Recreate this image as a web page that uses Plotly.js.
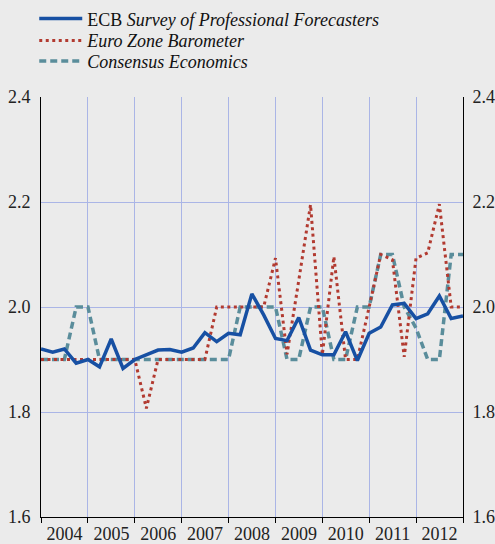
<!DOCTYPE html>
<html>
<head>
<meta charset="utf-8">
<script src="https://cdn.plot.ly/plotly-3.0.1.min.js"></script>
<style>
  html, body { margin: 0; padding: 0; background: #ebebeb; }
  #chart { width: 495px; height: 544px; }
</style>
</head>
<body>
<div id="chart"></div>
<script>
// Quarterly observations, 2004Q1 .. 2013Q1
const quarters = [
  "2004-01-01","2004-04-01","2004-07-01","2004-10-01",
  "2005-01-01","2005-04-01","2005-07-01","2005-10-01",
  "2006-01-01","2006-04-01","2006-07-01","2006-10-01",
  "2007-01-01","2007-04-01","2007-07-01","2007-10-01",
  "2008-01-01","2008-04-01","2008-07-01","2008-10-01",
  "2009-01-01","2009-04-01","2009-07-01","2009-10-01",
  "2010-01-01","2010-04-01","2010-07-01","2010-10-01",
  "2011-01-01","2011-04-01","2011-07-01","2011-10-01",
  "2012-01-01","2012-04-01","2012-07-01","2012-10-01",
  "2013-01-01"
];

const ecbSPF = [
  1.920, 1.914, 1.920, 1.893,
  1.900, 1.886, 1.939, 1.883,
  1.900, 1.909, 1.918, 1.919,
  1.914, 1.922, 1.951, 1.934,
  1.950, 1.947, 2.025, 1.985,
  1.940, 1.936, 1.980, 1.918,
  1.909, 1.909, 1.953, 1.898,
  1.950, 1.962, 2.004, 2.007,
  1.978, 1.987, 2.021, 1.978,
  1.983
];

const euroZoneBarometer = [
  1.90, 1.90, 1.90, 1.90,
  1.90, 1.90, 1.90, 1.90,
  1.90, 1.807, 1.90, 1.90,
  1.90, 1.90, 1.90, 2.00,
  2.00, 2.00, 2.00, 2.00,
  2.093, 1.91, 2.05, 2.195,
  1.909, 2.096, 1.90, 1.90,
  2.00, 2.10, 2.09, 1.905,
  2.093, 2.103, 2.196, 2.00,
  2.00
];

const consensusEconomics = [
  1.90, 1.90, 1.90, 2.00,
  2.00, 1.90, 1.90, 1.90,
  1.90, 1.90, 1.90, 1.90,
  1.90, 1.90, 1.90, 1.90,
  1.90, 2.00, 2.00, 2.00,
  2.00, 1.90, 1.90, 2.00,
  2.00, 1.90, 1.90, 2.00,
  2.00, 2.10, 2.10, 2.00,
  1.96, 1.90, 1.90, 2.10,
  2.10
];

const seriesNames = [
  "ECB <i>Survey of Professional Forecasters</i>",
  "<i>Euro Zone Barometer</i>",
  "<i>Consensus Economics</i>"
];

const yTicks = [1.6, 1.8, 2.0, 2.2, 2.4];

const FONT = "Liberation Serif, Times New Roman, serif";
const FS = 18;

const traces = [
  {
    x: quarters, y: consensusEconomics, name: seriesNames[2], legend: "legend3",
    type: "scatter", mode: "lines",
    line: { color: "#5a8d9b", width: 3.5, dash: "7px,4px" },
    hoverinfo: "skip"
  },
  {
    x: quarters, y: euroZoneBarometer, name: seriesNames[1], legend: "legend2",
    type: "scatter", mode: "lines",
    line: { color: "#b23a30", width: 3, dash: "3px,3.5px" },
    hoverinfo: "skip"
  },
  {
    x: quarters, y: ecbSPF, name: seriesNames[0], legend: "legend",
    type: "scatter", mode: "lines",
    line: { color: "#1750a3", width: 3.5 },
    hoverinfo: "skip"
  },
  {
    x: [quarters[0]], y: [yTicks[0]], yaxis: "y2", showlegend: false,
    type: "scatter", mode: "lines", line: { width: 0 }, hoverinfo: "skip"
  }
];

function legendAt(y) {
  return {
    x: -0.016, y: y, xanchor: "left", yanchor: "top",
    bgcolor: "rgba(0,0,0,0)", borderwidth: 0,
    itemwidth: 43,
    font: { family: FONT, size: FS, color: "#111" }
  };
}

const layout = {
  width: 495, height: 544,
  paper_bgcolor: "#ebebeb",
  plot_bgcolor: "#ebebeb",
  font: { family: FONT, size: FS, color: "#222" },
  margin: { l: 41, r: 32, t: 97, b: 27, pad: 0, autoexpand: false },
  showlegend: true,
  legend: legendAt(1.230),
  legend2: legendAt(1.178),
  legend3: legendAt(1.129),
  xaxis: {
    type: "date",
    range: ["2004-01-01", "2013-01-01"],
    dtick: "M12", tick0: "2004-01-01",
    tickformat: "%Y", ticklabelmode: "period",
    ticks: "outside", ticklen: 5, tickcolor: "#000", tickwidth: 1,
    ticklabelstandoff: -5,
    showline: true, linecolor: "#000", linewidth: 1,
    showgrid: true, gridcolor: "#aab5e6", gridwidth: 1,
    zeroline: false,
    tickfont: { family: FONT, size: FS, color: "#222" }
  },
  yaxis: {
    range: [1.6, 2.4],
    tickvals: yTicks, tickformat: ".1f",
    ticks: "", showline: true, linecolor: "#000", linewidth: 1,
    showgrid: true, gridcolor: "#aab5e6", gridwidth: 1,
    zeroline: false, ticklabelstandoff: 6,
    tickfont: { family: FONT, size: FS, color: "#222" }
  },
  yaxis2: {
    overlaying: "y", side: "right",
    range: [1.6, 2.4],
    tickvals: yTicks, tickformat: ".1f",
    ticks: "", showline: true, linecolor: "#000", linewidth: 1,
    showgrid: false, zeroline: false, ticklabelstandoff: 5,
    tickfont: { family: FONT, size: FS, color: "#222" }
  }
};

Plotly.newPlot("chart", traces, layout, { displayModeBar: false, staticPlot: true });
</script>
</body>
</html>
